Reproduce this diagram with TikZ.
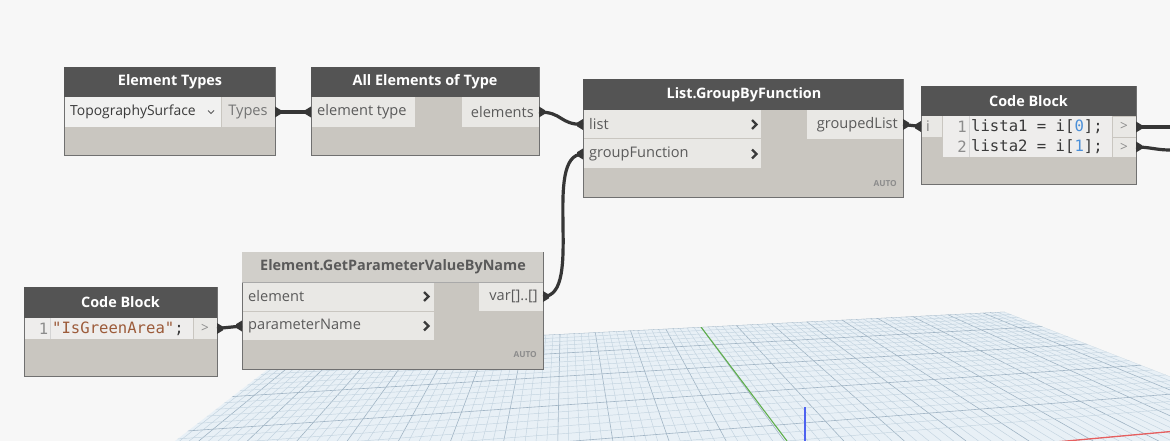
\documentclass[tikz,border=0pt]{standalone}
\usepackage{fontspec}
\setmainfont{Open Sans}
\newfontfamily\monof{DejaVu Sans Mono}
\definecolor{bg}{HTML}{F7F7F7}
\definecolor{hdr}{HTML}{545454}
\definecolor{hdrlight}{HTML}{D1CFCA}
\definecolor{body}{HTML}{C9C6C0}
\definecolor{cell}{HTML}{E9E8E5}
\definecolor{cellw}{HTML}{F1F1F0}
\definecolor{border}{HTML}{707070}
\definecolor{lbl}{HTML}{5A5A5A}
\definecolor{wirec}{HTML}{363636}
\definecolor{plane}{HTML}{E8F0F6}
\definecolor{minor}{HTML}{C3D3DF}
\definecolor{major}{HTML}{A0B4C4}
\definecolor{codeblue}{HTML}{4A8FD8}
\definecolor{codestr}{HTML}{9C5B3A}
\definecolor{codetxt}{HTML}{3A3A3A}
\definecolor{lnum}{HTML}{8C8C8C}
\definecolor{gaxis}{HTML}{5FAE4C}
\definecolor{baxis}{HTML}{4D62F0}
\definecolor{raxis}{HTML}{E65F5F}
\begin{document}
\begin{tikzpicture}[x=1pt,y=-1pt,
  boxst/.style={fill=body,draw=border,line width=0.8pt},
  hdrst/.style={fill=hdr},
  hdrl/.style={fill=hdrlight},
  cellst/.style={fill=cell},
  cellw/.style={fill=cellw},
  ttl/.style={font=\bfseries\fontsize{14.4}{16}\selectfont,text=white,inner sep=0pt},
  ttld/.style={font=\bfseries\fontsize{14.4}{16}\selectfont,text=lbl,inner sep=0pt},
  lab/.style={font=\fontsize{14.6}{17}\selectfont,text=lbl,inner sep=0pt},
  chevron/.style={draw=codetxt,line width=2.3pt,line cap=butt,line join=miter},
  gt/.style={font=\fontsize{13.5}{15}\selectfont,text=lnum,inner sep=0pt},
  autost/.style={font=\bfseries\fontsize{8.3}{10}\selectfont,text=lnum,inner sep=0pt,anchor=east},
  code/.style={font=\monof\fontsize{15.6}{18}\selectfont,text=codetxt,inner sep=0pt},
  lno/.style={font=\monof\fontsize{15.6}{18}\selectfont,text=lnum,inner sep=0pt,anchor=east},
  wire/.style={draw=wirec,line width=3.2pt},
  nub/.style={fill=wirec}]
\useasboundingbox (0,0) rectangle (1170,441);
\fill[bg] (0,0) rectangle (1170,441);

% ---------- ground grid ----------
\begin{scope}
\clip (296,347.5) -- (1004,311.8) -- (1335,441) -- (1335,460) -- (150,460) -- (175,441) -- cycle;
\fill[plane] (150,300) rectangle (1400,460);
\foreach \j in {-57,...,43}{
  \pgfmathsetmacro{\xj}{701+7.05*\j}
  \pgfmathsetmacro{\yf}{140+194*((4406-\xj)/3842)}
  \pgfmathsetmacro{\xb}{564+((\xj-564)/(\yf-140))*301}
  \pgfmathtruncatemacro{\m}{mod(abs(\j),5)}
  \ifnum\m=0
    \draw[major,line width=0.6pt] (\xj,\yf) -- (\xb,441);
  \else
    \draw[minor,line width=0.45pt] (\xj,\yf) -- (\xb,441);
  \fi
}
\foreach \k in {0,...,22}{
  \pgfmathsetmacro{\dk}{194*(56/(56-\k))}
  \pgfmathsetmacro{\ya}{140+\dk*(4256/3842)}
  \pgfmathsetmacro{\yb}{140+\dk*(3056/3842)}
  \pgfmathtruncatemacro{\m}{mod(\k,5)}
  \ifnum\m=0
    \draw[major,line width=0.6pt] (150,\ya) -- (1350,\yb);
  \else
    \draw[minor,line width=0.45pt] (150,\ya) -- (1350,\yb);
  \fi
}
\draw[gaxis,line width=1.1pt] (701,327) -- (787,441);
\draw[raxis,line width=1.3pt] (1050,442.5) -- (1170,431.6);
\end{scope}
\draw[baxis,line width=1.2pt] (805,407) -- (805,441);

% ---------- Element Types ----------
\path[boxst] (64,67) rectangle (275,155);
\path[hdrst] (64.4,67.4) rectangle (274.6,97);
\node[ttl] (etT) at (170,82) {Element Types};
\path[cellw] (65,97) rectangle (221,127);
\path[cellst,fill=cell!80!body] (222,97) rectangle (274.5,127);
\node[lab,anchor=west,text=codetxt,font=\fontsize{13.9}{16}\selectfont] (etDrop) at (70,112) {TopographySurface};
\draw[lbl,line width=0.9pt] (208,110.5) -- (211,113.5) -- (214,110.5);
\node[lab,text=lbl!85] (etTypes) at (248,112) {Types};
\coordinate (etOut) at (275,112);

% ---------- All Elements of Type ----------
\path[boxst] (311,67) rectangle (539,155);
\path[hdrst] (311.4,67.4) rectangle (538.6,97);
\node[ttl] (aeT) at (425,82) {All Elements of Type};
\path[cellst] (312,97) rectangle (415,127);
\path[cellst] (462,97) rectangle (538.5,127);
\node[lab,anchor=west] (aeIn1) at (317,112) {element type};
\node[lab,anchor=east] (aeOut1) at (534,112) {elements};
\coordinate (aeIn) at (311,112);
\coordinate (aeOut) at (539,112);

% ---------- List.GroupByFunction ----------
\path[boxst] (583,79) rectangle (903,197);
\path[hdrst] (583.4,79.4) rectangle (902.6,110);
\node[ttl] (gbT) at (744,95) {List.GroupByFunction};
\path[cellst] (584,110) rectangle (761,138.5);
\path[cellst] (584,139.5) rectangle (761,168);
\path[cellst] (807,110) rectangle (902.5,139);
\node[lab,anchor=west] (gbL1) at (589,124.5) {list};
\node[lab,anchor=west] (gbL2) at (589,154) {groupFunction};
\coordinate (gbC1) at (755,124.5);
\coordinate (gbC2) at (755,154);
\node[lab,anchor=east] (gbO1) at (898,124.5) {groupedList};
\node[autost] (gbA) at (897,184) {AUTO};
\coordinate (gbIn1) at (583,124.5);
\coordinate (gbIn2) at (583,154);
\coordinate (gbOut) at (903,124.5);

% ---------- Code Block (right) ----------
\path[boxst] (921,86) rectangle (1136,184);
\path[hdrst] (921.4,86.4) rectangle (1135.6,116);
\node[ttl] (cb2T) at (1028.5,101) {Code Block};
\path[cellst] (922,116) rectangle (942,137);
\node[lab,text=lbl!80] (cb2i) at (928,126.5) {i};
\path[fill=cellw!60!cell] (943,116) rectangle (1112,157);
\draw[border!30,line width=0.5pt] (969,116) -- (969,157);
\node[lno] (cb2n1) at (967,126.5) {1};
\node[lno] (cb2n2) at (967,147) {2};
\node[code,anchor=west] (cb2c1) at (971,126.5) {lista1 = i[\textcolor{codeblue}{0}];};
\node[code,anchor=west] (cb2c2) at (971,147) {lista2 = i[\textcolor{codeblue}{1}];};
\path[cellst] (1113,117) rectangle (1135.5,137);
\path[cellst] (1113,138) rectangle (1135.5,157);
\node[gt] (cb2g1) at (1124,126.5) {>};
\node[gt] (cb2g2) at (1124,147) {>};
\coordinate (cbIn) at (921,126.5);
\coordinate (cbOut1) at (1136,127);
\coordinate (cbOut2) at (1136,147);
\coordinate (e1) at (1170,127);
\coordinate (e2) at (1170,150);

% ---------- Code Block (left) ----------
\path[boxst] (24,287) rectangle (217,376);
\path[hdrst] (24.4,287.4) rectangle (216.6,318);
\node[ttl] (cb1T) at (120.5,302.5) {Code Block};
\path[fill=cellw!60!cell] (25,318) rectangle (193,339);
\draw[border!30,line width=0.5pt] (50,318) -- (50,339);
\node[lno] (cb1n1) at (48.5,328.5) {1};
\node[code,anchor=west] (cb1c1) at (52,328.5) {\textcolor{codestr}{"IsGreenArea"};};
\path[cellst] (194,318) rectangle (216.5,339);
\node[gt] (cb1g) at (205,328.5) {>};
\coordinate (cb1Out) at (217,328.5);

% ---------- Element.GetParameterValueByName ----------
\path[boxst] (242,252) rectangle (543,369);
\path[hdrl] (242.4,252.4) rectangle (542.6,282);
\draw[border!60,line width=0.5pt] (242.4,282) -- (542.6,282);
\node[ttld] (gpT) at (393,267) {Element.GetParameterValueByName};
\path[cellst] (243,282.5) rectangle (434,310.5);
\path[cellst] (243,311.5) rectangle (434,340);
\path[cellst] (479,282.5) rectangle (542.5,311);
\node[lab,anchor=west] (gpL1) at (248,296.5) {element};
\node[lab,anchor=west] (gpL2) at (248,326) {parameterName};
\coordinate (gpC1) at (427,296.5);
\coordinate (gpC2) at (427,326);
\node[lab,anchor=east] (gpO1) at (538,296.5) {var[]..[]};
\node[autost] (gpA) at (537,355) {AUTO};
\coordinate (gpIn1) at (242,296.5);
\coordinate (gpIn2) at (242,326);
\coordinate (gpOut) at (543,296.5);

% row chevrons
\foreach \c in {gbC1,gbC2,gpC1,gpC2}
  \draw[chevron] ([xshift=-3pt,yshift=-4.5pt]\c) -- ([xshift=1.5pt]\c) -- ([xshift=-3pt,yshift=4.5pt]\c);

% ---------- wires ----------
\draw[wire] (etOut) -- (aeIn);
\draw[wire] (aeOut) .. controls +(24,0) and +(-24,0) .. (gbIn1);
\draw[wire] (gpOut) .. controls +(42,0) and +(-42,0) .. (gbIn2);
\draw[wire] (cb1Out) -- (gpIn2);
\draw[wire] (gbOut) -- (cbIn);
\draw[wire] (cbOut1) -- (e1);
\draw[wire] (cbOut2) .. controls +(14,0) and +(-14,0) .. (e2);
% port nubs: outputs point right, inputs point left
\foreach \p in {etOut,aeOut,gbOut,cbOut1,cbOut2,cb1Out,gpOut}
  \fill[nub] ([yshift=-5.5pt]\p) -- ([xshift=6pt,yshift=-1.8pt]\p) -- ([xshift=6pt,yshift=1.8pt]\p) -- ([yshift=5.5pt]\p) -- cycle;
\foreach \p in {aeIn,gbIn1,gbIn2,cbIn,gpIn2}
  \fill[nub] ([yshift=-5.5pt]\p) -- ([xshift=-6pt,yshift=-1.8pt]\p) -- ([xshift=-6pt,yshift=1.8pt]\p) -- ([yshift=5.5pt]\p) -- cycle;
\end{tikzpicture}
\end{document}
